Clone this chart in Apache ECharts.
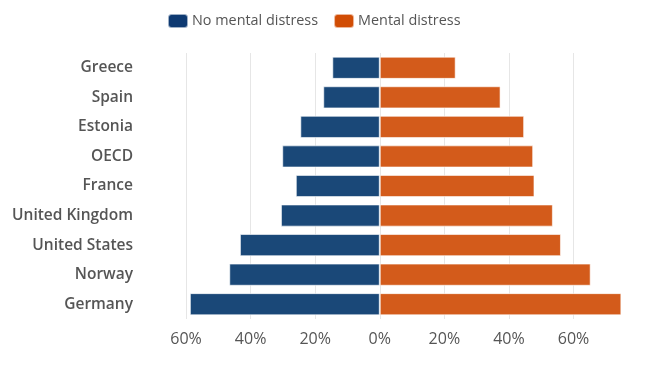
<!DOCTYPE html>
<html>
<head>
<meta charset="utf-8">
<script src="https://cdn.jsdelivr.net/npm/echarts@6/dist/echarts.min.js"></script>
<style>html,body{margin:0;padding:0;background:#fff;}#c{width:650px;height:366px;}</style>
</head>
<body>
<div id="c"></div>
<script>
const categories = ['Greece','Spain','Estonia','OECD','France','United Kingdom','United States','Norway','Germany'];
const noDistress = [14.7, 17.5, 24.6, 30.2, 26.0, 30.6, 43.3, 46.6, 58.8];
const distress = [23.5, 37.4, 44.7, 47.5, 47.9, 53.6, 56.1, 65.3, 74.8];
const seriesNames = ['No mental distress', 'Mental distress'];

const chart = echarts.init(document.getElementById('c'), null, {renderer: 'canvas'});
const font = '"Open Sans", "Noto Sans", sans-serif';
const gridColors = ['#e6e6e6','#e6e6e6','#e6e6e6','#e6e6e6','#e6e6e6','#e6e6e6','#e6e6e6','rgba(0,0,0,0)'];
chart.setOption({
  animation: false,
  textStyle: {fontFamily: font},
  legend: {
    left: 167, top: 13, padding: 0,
    itemWidth: 20, itemHeight: 14, itemGap: 15,
    icon: 'roundRect',
    textStyle: {fontSize: 14.4, color: '#555', fontFamily: font, padding: [0,0,0,-1]},
    data: [
      {name: seriesNames[0], itemStyle: {color: '#0e3a72'}},
      {name: seriesNames[1], itemStyle: {color: '#d14d05'}}
    ]
  },
  grid: {left: 186, right: 28, top: 53, bottom: 47},
  xAxis: {
    type: 'value', min: -60, max: 75, interval: 20,
    axisLine: {show: false}, axisTick: {show: false},
    splitLine: {show: true, lineStyle: {color: gridColors, width: 1}},
    axisLabel: {
      showMaxLabel: false,
      fontSize: 16, color: '#555', fontFamily: font, margin: 12,
      formatter: v => Math.abs(v) + '%'
    }
  },
  yAxis: {
    type: 'category', data: categories, inverse: true,
    axisLine: {show: false}, axisTick: {show: false},
    axisLabel: {fontSize: 15.5, fontWeight: 600, color: '#555', fontFamily: font, margin: 53}
  },
  series: [
    {
      name: seriesNames[0], type: 'bar', stack: 'total', barCategoryGap: '25%',
      data: noDistress.map(v => -v),
      itemStyle: {color: '#1a4878', borderColor: 'rgba(255,255,255,0.6)', borderWidth: 1}
    },
    {
      name: seriesNames[1], type: 'bar', stack: 'total', barCategoryGap: '25%',
      data: distress,
      itemStyle: {color: '#d35b1b', borderColor: 'rgba(255,255,255,0.6)', borderWidth: 1}
    }
  ]
});
</script>
</body>
</html>
